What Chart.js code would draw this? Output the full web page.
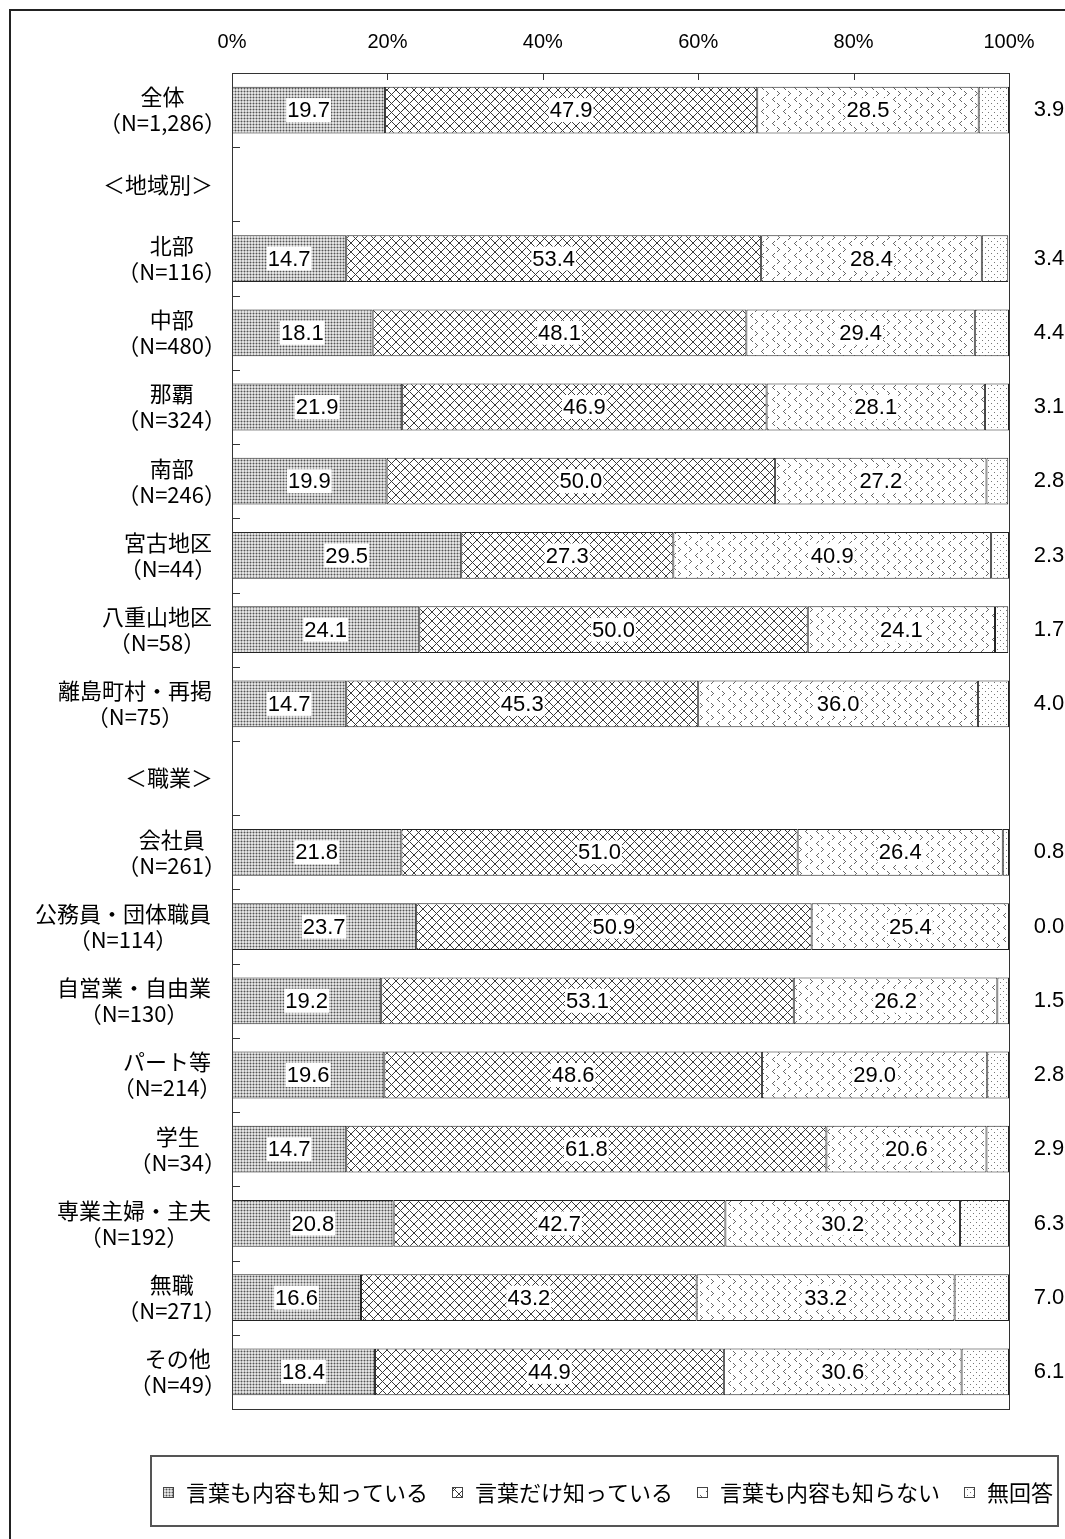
<!DOCTYPE html>
<html>
<head>
<meta charset="utf-8">
<script src="https://cdn.jsdelivr.net/npm/chart.js@4/dist/chart.umd.min.js"></script>
<style>
  body { margin: 0; background: #fff; }
  canvas { display: block; }
</style>
</head>
<body>
<canvas id="myChart" width="1065" height="1539"></canvas>
<script>
// row labels (first line / second line)
const groups = ['全体', '＜地域別＞', '北部', '中部', '那覇', '南部', '宮古地区', '八重山地区', '離島町村・再掲',
  '＜職業＞', '会社員', '公務員・団体職員', '自営業・自由業', 'パート等', '学生', '専業主婦・主夫', '無職', 'その他'];
const counts = ['（N=1,286）', null, '（N=116）', '（N=480）', '（N=324）', '（N=246）', '（N=44）', '（N=58）', '（N=75）',
  null, '（N=261）', '（N=114）', '（N=130）', '（N=214）', '（N=34）', '（N=192）', '（N=271）', '（N=49）'];

const seriesNames = ['言葉も内容も知っている', '言葉だけ知っている', '言葉も内容も知らない', '無回答'];
const knowBoth = [19.7, null, 14.7, 18.1, 21.9, 19.9, 29.5, 24.1, 14.7, null, 21.8, 23.7, 19.2, 19.6, 14.7, 20.8, 16.6, 18.4];
const wordOnly = [47.9, null, 53.4, 48.1, 46.9, 50.0, 27.3, 50.0, 45.3, null, 51.0, 50.9, 53.1, 48.6, 61.8, 42.7, 43.2, 44.9];
const notKnown = [28.5, null, 28.4, 29.4, 28.1, 27.2, 40.9, 24.1, 36.0, null, 26.4, 25.4, 26.2, 29.0, 20.6, 30.2, 33.2, 30.6];
const noAnswer = [3.9, null, 3.4, 4.4, 3.1, 2.8, 2.3, 1.7, 4.0, null, 0.8, 0.0, 1.5, 2.8, 2.9, 6.3, 7.0, 6.1];

const xTicks = [0, 20, 40, 60, 80, 100];

const labels = groups.map((g, i) => counts[i] ? [g, counts[i]] : [g]);

// small tiles for the hatch fills
function makeTile(w, h, paint) {
  const c = document.createElement('canvas');
  c.width = w; c.height = h;
  const g = c.getContext('2d');
  g.fillStyle = '#fff';
  g.fillRect(0, 0, w, h);
  paint(g);
  return document.getElementById('myChart').getContext('2d').createPattern(c, 'repeat');
}
function px(g, col, pts) {
  g.fillStyle = col;
  pts.forEach(p => g.fillRect(p[0], p[1], 1, 1));
}

const pStipple = makeTile(3, 3, g => {
  g.fillStyle = '#e2e2e2'; g.fillRect(0, 0, 3, 3);
  px(g, '#ababab', [[0, 1], [2, 1], [1, 0], [1, 2]]);
  px(g, '#545454', [[1, 1]]);
});
const pCross = makeTile(9, 9, g => {
  g.strokeStyle = '#3a3a3a';
  g.lineWidth = 1;
  g.beginPath();
  g.moveTo(0, 0); g.lineTo(9, 9);
  g.moveTo(9, 0); g.lineTo(0, 9);
  g.stroke();
});
const pChevron = makeTile(11, 12, g => {
  px(g, '#666', [[4, 1], [3, 2], [2, 3], [3, 4], [4, 5]]);
  px(g, '#666', [[7, 7], [8, 8], [9, 9], [8, 10], [7, 11]]);
});
const pDots = makeTile(6, 6, g => {
  px(g, '#777', [[1, 1], [4, 4]]);
});
const fills = [pStipple, pCross, pChevron, pDots];

const numFont = '22px "Liberation Sans", Arial, sans-serif';
const jpFont = '"Noto Sans CJK JP", "Noto Sans", sans-serif';

// row labels: block right-aligned on ink, lines centred inside the block
const rowLabels = {
  id: 'rowLabels',
  afterDraw(chart) {
    const ctx = chart.ctx;
    const y = chart.scales.y;
    ctx.save();
    ctx.font = '22px ' + jpFont;
    ctx.fillStyle = '#000';
    ctx.textAlign = 'center';
    ctx.textBaseline = 'middle';
    chart.data.labels.forEach((lines, i) => {
      const inkRight = Math.max(...lines.map(l => ctx.measureText(l).actualBoundingBoxRight));
      const cx = 211 - inkRight;
      const cy = y.getPixelForValue(i);
      lines.forEach((l, k) => {
        ctx.fillText(l, cx, cy + (k - (lines.length - 1) / 2) * 26);
      });
    });
    ctx.restore();
  }
};

// value labels on segments, last series outside on the right
const valueLabels = {
  id: 'valueLabels',
  afterDatasetsDraw(chart) {
    const ctx = chart.ctx;
    ctx.save();
    ctx.font = numFont;
    ctx.textAlign = 'center';
    ctx.textBaseline = 'middle';
    chart.data.datasets.forEach((ds, di) => {
      const meta = chart.getDatasetMeta(di);
      meta.data.forEach((bar, i) => {
        const v = ds.data[i];
        if (v === null) return;
        const txt = v.toFixed(1);
        const p = bar.getProps(['x', 'y', 'base'], true);
        if (di === 3) {
          ctx.fillStyle = '#000';
          ctx.fillText(txt, 1049, p.y);
          return;
        }
        const cx = (p.x + p.base) / 2;
        const w = ctx.measureText(txt).width + 2;
        ctx.fillStyle = '#fff';
        ctx.fillRect(cx - w / 2, p.y - 12, w, 24);
        ctx.fillStyle = '#000';
        ctx.fillText(txt, cx, p.y + 1);
      });
    });
    ctx.restore();
  }
};

// plot frame, inward ticks, outer frame and the boxed legend
const frame = {
  id: 'frame',
  afterDraw(chart) {
    const ctx = chart.ctx;
    const a = chart.chartArea;
    const xs = chart.scales.x, ys = chart.scales.y;
    ctx.save();
    ctx.strokeStyle = '#333';
    ctx.lineWidth = 1;
    ctx.strokeRect(Math.round(a.left) + 0.5, Math.round(a.top) + 0.5, Math.round(a.right - a.left), Math.round(a.bottom - a.top));
    ctx.beginPath();
    xTicks.slice(1, -1).forEach(t => {
      const x = Math.round(xs.getPixelForValue(t)) + 0.5;
      ctx.moveTo(x, a.top); ctx.lineTo(x, a.top + 7);
    });
    for (let i = 0; i <= chart.data.labels.length; i++) {
      const yy = Math.round(i === 0 ? a.top : i === chart.data.labels.length ? a.bottom
        : (ys.getPixelForValue(i - 1) + ys.getPixelForValue(i)) / 2) + 0.5;
      ctx.moveTo(a.left, yy); ctx.lineTo(a.left + 8, yy);
    }
    ctx.stroke();

    // outer frame (top and left edges visible)
    ctx.strokeStyle = '#222';
    ctx.lineWidth = 2;
    ctx.beginPath();
    ctx.moveTo(10, 1539); ctx.lineTo(10, 10); ctx.lineTo(1065, 10);
    ctx.stroke();

    // legend
    ctx.strokeStyle = '#555';
    ctx.lineWidth = 2;
    ctx.strokeRect(151, 1456, 907, 70);
    ctx.font = '22px ' + jpFont;
    ctx.textBaseline = 'middle';
    ctx.textAlign = 'left';
    let x = 163;
    const ly = 1492;
    seriesNames.forEach((name, i) => {
      ctx.fillStyle = fills[i];
      ctx.fillRect(x, ly - 5, 11, 11);
      ctx.strokeStyle = '#444';
      ctx.lineWidth = 1;
      ctx.strokeRect(x + 0.5, ly - 4.5, 10, 10);
      ctx.fillStyle = '#000';
      ctx.fillText(name, x + 23, ly + 1);
      x += 23 + ctx.measureText(name).width + 24;
    });
    ctx.restore();
  }
};

const data = {
  labels: labels,
  datasets: [knowBoth, wordOnly, notKnown, noAnswer].map((vals, i) => ({
    label: seriesNames[i],
    data: vals,
    backgroundColor: fills[i],
    borderColor: '#222',
    borderWidth: 1,
    borderSkipped: false,
    barPercentage: 0.63,
    categoryPercentage: 1
  }))
};

const config = {
  type: 'bar',
  data,
  options: {
    indexAxis: 'y',
    responsive: false,
    animation: false,
    devicePixelRatio: 1,
    layout: { padding: { left: 232, right: 56, top: 10, bottom: 130 } },
    plugins: {
      legend: { display: false },
      tooltip: { enabled: false }
    },
    scales: {
      x: {
        position: 'top',
        stacked: true,
        min: 0,
        max: 100,
        grid: { display: false, drawTicks: false },
        border: { display: false },
        afterBuildTicks: s => { s.ticks = xTicks.map(v => ({ value: v })); },
        afterFit: s => { s.height = 63; },
        ticks: {
          padding: 19,
          color: '#000',
          font: { size: 20, family: '"Liberation Sans", Arial, sans-serif' },
          callback: v => v + '%'
        }
      },
      y: {
        stacked: true,
        grid: { display: false },
        border: { display: false },
        ticks: { display: false },
        afterFit: s => { s.width = 0; }
      }
    }
  },
  plugins: [valueLabels, frame, rowLabels]
};

new Chart(document.getElementById('myChart'), config);
</script>
</body>
</html>
